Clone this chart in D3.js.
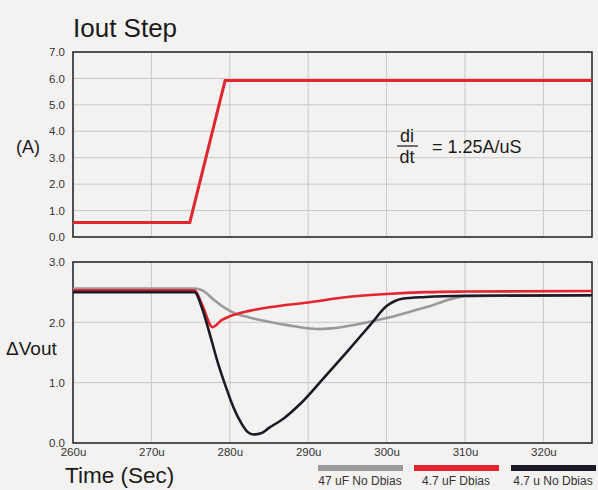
<!DOCTYPE html>
<html>
<head>
<meta charset="utf-8">
<script src="https://cdn.jsdelivr.net/npm/d3@7"></script>
<style>
  body { margin: 0; background: #f4f2f1; }
  svg { display: block; font-family: "Liberation Sans", Arial, sans-serif; }
</style>
</head>
<body>
<div id="chart"></div>
<script>
// current step (top panel)
const stepTime = [260, 274.9, 279.4, 326.2];
const stepAmps = [0.55, 0.55, 5.92, 5.92];

// output voltage deviation (bottom panel)
const grayTime = [260, 275.5, 276.5, 278, 279, 280.3, 282.5, 285, 287.5, 290, 291, 293, 296, 300, 305, 310, 315, 326.2];
const grayVolt = [2.56, 2.56, 2.53, 2.37, 2.27, 2.17, 2.08, 2.01, 1.95, 1.9, 1.89, 1.9, 1.96, 2.07, 2.25, 2.43, 2.44, 2.44];

const redTime = [260, 275.5, 276.5, 277.8, 279, 280, 282.5, 285, 290, 295, 300, 305, 310, 326.2];
const redVolt = [2.53, 2.53, 2.28, 1.92, 2.04, 2.1, 2.19, 2.25, 2.33, 2.42, 2.47, 2.5, 2.51, 2.52];

const blackTime = [260, 275.5, 276.5, 277.5, 278.5, 279.5, 280.5, 281.5, 282.3, 283, 284, 285, 287, 289, 292, 295, 298, 300, 301, 302, 305, 310, 326.2];
const blackVolt = [2.5, 2.5, 2.22, 1.78, 1.32, 0.93, 0.58, 0.32, 0.18, 0.14, 0.16, 0.25, 0.42, 0.65, 1.08, 1.52, 1.97, 2.27, 2.35, 2.39, 2.42, 2.44, 2.45];

const xTicks = [260, 270, 280, 290, 300, 310, 320];
const topTicks = [0, 1, 2, 3, 4, 5, 6, 7];
const bottomTicks = [0, 1, 2, 3];
const legendNames = ["47 uF No Dbias", "4.7 uF Dbias", "4.7 u No Dbias"];
const legendColors = ["#9a9a9c", "#e3252f", "#1b1a26"];

const width = 598, height = 490;
const left = 73, right = 592;

const svg = d3.select("#chart").append("svg")
    .attr("width", width)
    .attr("height", height);

svg.append("rect").attr("width", width).attr("height", height).attr("fill", "#f4f2f1");

const x = d3.scaleLinear().domain([260, 326.2]).range([left, right]);
const yTop = d3.scaleLinear().domain([0, 7]).range([237, 52]);
const yBot = d3.scaleLinear().domain([0, 3]).range([443, 262]);

function panel(y, ticks) {
    const g = svg.append("g");
    const [y0, y1] = y.range();
    // grid
    g.selectAll(".hgrid").data(ticks).enter().append("line")
        .attr("x1", left).attr("x2", right)
        .attr("y1", d => y(d)).attr("y2", d => y(d))
        .attr("stroke", "#c9c7c7").attr("stroke-width", 1);
    g.selectAll(".vgrid").data(xTicks).enter().append("line")
        .attr("x1", d => x(d)).attr("x2", d => x(d))
        .attr("y1", y0).attr("y2", y1)
        .attr("stroke", "#c9c7c7").attr("stroke-width", 1);
    // y axis labels
    const ax = g.append("g")
        .attr("transform", "translate(" + left + ",0)")
        .call(d3.axisLeft(y).tickValues(ticks).tickFormat(d3.format(".1f")).tickSize(0).tickPadding(8));
    ax.select(".domain").remove();
    ax.selectAll("text").attr("fill", "#333").style("font-size", "11.5px");
    // frame
    g.append("rect")
        .attr("x", left).attr("y", y1)
        .attr("width", right - left).attr("height", y0 - y1)
        .attr("fill", "none").attr("stroke", "#20202a").attr("stroke-width", 1.5);
}

panel(yTop, topTicks);
panel(yBot, bottomTicks);

// x axis labels (bottom panel)
const xAx = svg.append("g")
    .attr("transform", "translate(0,443)")
    .call(d3.axisBottom(x).tickValues(xTicks).tickFormat(d => d + "u").tickSize(0).tickPadding(5));
xAx.select(".domain").remove();
xAx.selectAll("text").attr("fill", "#333").style("font-size", "11.5px");

// lines
const line = (y) => d3.line().x(d => x(d[0])).y(d => y(d[1]));

svg.append("path")
    .datum(d3.zip(stepTime, stepAmps))
    .attr("d", line(yTop))
    .attr("fill", "none").attr("stroke", "#e0262f").attr("stroke-width", 3);

const smooth = (y) => d3.line().x(d => x(d[0])).y(d => y(d[1])).curve(d3.curveMonotoneX);

[[grayTime, grayVolt, legendColors[0]], [redTime, redVolt, legendColors[1]], [blackTime, blackVolt, legendColors[2]]]
    .forEach(s => {
        svg.append("path")
            .datum(d3.zip(s[0], s[1]))
            .attr("d", smooth(yBot))
            .attr("fill", "none").attr("stroke", s[2]).attr("stroke-width", 2.6)
            .attr("stroke-linejoin", "round");
    });

// titles
svg.append("text").attr("x", 73).attr("y", 37).text("Iout Step")
    .style("font-size", "26px").attr("fill", "#1a1a1a");
svg.append("text").attr("x", 16).attr("y", 153).text("(A)")
    .style("font-size", "18px").attr("fill", "#1a1a1a");
svg.append("text").attr("x", 6).attr("y", 355).text("\u0394Vout")
    .style("font-size", "19px").attr("fill", "#1a1a1a");
svg.append("text").attr("x", 65).attr("y", 483).text("Time (Sec)")
    .style("font-size", "22.5px").attr("fill", "#1a1a1a");

// di/dt note
svg.append("text").attr("x", 407).attr("y", 142).attr("text-anchor", "middle").text("di")
    .style("font-size", "18px").attr("fill", "#1a1a1a");
svg.append("line").attr("x1", 397).attr("x2", 418).attr("y1", 146).attr("y2", 146)
    .attr("stroke", "#1a1a1a").attr("stroke-width", 1.2);
svg.append("text").attr("x", 407).attr("y", 163).attr("text-anchor", "middle").text("dt")
    .style("font-size", "18px").attr("fill", "#1a1a1a");
svg.append("text").attr("x", 432).attr("y", 153).text("= 1.25A/uS")
    .style("font-size", "18px").attr("fill", "#1a1a1a");

// legend
const legX = [318, 414, 511];
const legend = svg.selectAll(".legend").data(legendNames).enter().append("g");
legend.append("rect")
    .attr("x", (d, i) => legX[i]).attr("y", 465)
    .attr("width", 85).attr("height", 6)
    .attr("fill", (d, i) => legendColors[i]);
legend.append("text")
    .attr("x", (d, i) => legX[i] + 42).attr("y", 485)
    .attr("text-anchor", "middle")
    .style("font-size", "12px").attr("fill", "#333")
    .text(d => d);
</script>
</body>
</html>
